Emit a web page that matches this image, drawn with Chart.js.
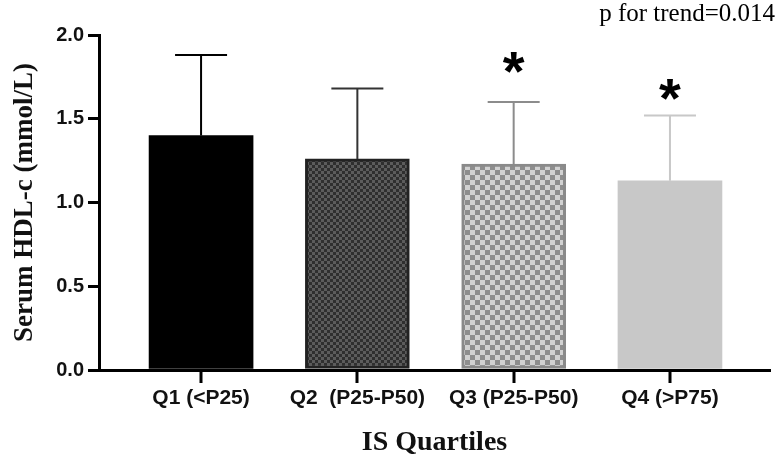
<!DOCTYPE html>
<html>
<head>
<meta charset="utf-8">
<script src="https://cdn.jsdelivr.net/npm/chart.js@4"></script>
<style>
  body { margin: 0; background: #fff; }
  canvas { display: block; }
</style>
</head>
<body>
<canvas id="myChart" width="780" height="466"></canvas>
<script>
// quartile groups
var categories = ["Q1 (<P25)", "Q2  (P25-P50)", "Q3 (P25-P50)", "Q4 (>P75)"];
var positions = [1, 2, 3, 4];
var hdlMean = [1.40, 1.26, 1.23, 1.13];
var hdlSD = [0.48, 0.42, 0.37, 0.39];
var starY = [null, null, 1.83, 1.67];   // where the * marks sit
var yTicks = [0, 0.5, 1.0, 1.5, 2.0];

function checker(size, c1, c2) {
    var c = document.createElement("canvas");
    c.width = size * 2; c.height = size * 2;
    var g = c.getContext("2d");
    g.fillStyle = c1; g.fillRect(0, 0, size * 2, size * 2);
    g.fillStyle = c2;
    g.fillRect(0, 0, size, size);
    g.fillRect(size, size, size, size);
    return g.createPattern(c, "repeat");
}

var fills = ["#000000", checker(3, "#2f2f2f", "#5c5c5c"), checker(5, "#8e8e8e", "#d2d2d2"), "#c8c8c8"];
var borders = ["#000000", "#222222", "#8a8a8a", "#c8c8c8"];
var errColors = ["#000000", "#333333", "#8c8c8c", "#c8c8c8"];

var errorBars = {
    id: "errorBars",
    afterDatasetsDraw: function (chart) {
        var ctx = chart.ctx, xs = chart.scales.x, ys = chart.scales.y;
        ctx.save();
        // category tick marks under the x axis
        ctx.strokeStyle = "#000";
        ctx.lineWidth = 3;
        ctx.beginPath();
        for (var k = 0; k < positions.length; k++) {
            var tx = Math.round(xs.getPixelForValue(positions[k]));
            ctx.moveTo(tx, xs.top);
            ctx.lineTo(tx, xs.top + 13);
        }
        ctx.stroke();

        ctx.lineWidth = 2;
        for (var i = 0; i < hdlMean.length; i++) {
            var x = xs.getPixelForValue(positions[i]);
            var y0 = ys.getPixelForValue(hdlMean[i]);
            var y1 = ys.getPixelForValue(hdlMean[i] + hdlSD[i]);
            ctx.strokeStyle = errColors[i];
            ctx.beginPath();
            ctx.moveTo(x, y0); ctx.lineTo(x, y1);
            ctx.moveTo(x - 26, y1); ctx.lineTo(x + 26, y1);
            ctx.stroke();
            if (starY[i] != null) {
                ctx.fillStyle = "#000";
                ctx.font = "bold 56px 'Liberation Sans'";
                ctx.textAlign = "center";
                ctx.textBaseline = "middle";
                ctx.fillText("*", x, ys.getPixelForValue(starY[i]) + 11);
            }
        }
        ctx.fillStyle = "#000";
        ctx.font = "25px 'Liberation Serif'";
        ctx.textAlign = "right";
        ctx.textBaseline = "alphabetic";
        ctx.fillText("p for trend=0.014", 775, 21);
        ctx.restore();
    }
};

var ctx = document.getElementById("myChart");
var myChart = new Chart(ctx, {
    type: "bar",
    data: {
        datasets: [{
            data: positions.map(function (p, i) { return { x: p, y: hdlMean[i] }; }),
            backgroundColor: fills,
            borderColor: borders,
            borderWidth: [0, 3, 3, 0],
            borderSkipped: false,
            barThickness: 104
        }]
    },
    options: {
        responsive: false,
        animation: false,
        layout: { padding: { top: 35, right: 10, left: 0, bottom: 0 } },
        plugins: { legend: { display: false }, tooltip: { enabled: false } },
        scales: {
            x: {
                type: "linear",
                offset: false,
                min: 0.347,
                max: 4.64,
                afterBuildTicks: function (s) {
                    s.ticks = positions.map(function (p) { return { value: p }; });
                },
                afterFit: function (s) { s.height = 96; },
                ticks: {
                    color: "#111",
                    font: { family: "'Liberation Sans'", weight: "bold", size: 21 },
                    padding: 8,
                    maxRotation: 0,
                    autoSkip: false,
                    callback: function (v) { return categories[positions.indexOf(v)]; }
                },
                grid: { display: false },
                border: { display: true, color: "#000", width: 3 },
                title: {
                    display: true,
                    text: "IS Quartiles",
                    color: "#111",
                    font: { family: "'Liberation Serif'", weight: "bold", size: 28 },
                    padding: { top: 0, bottom: 6 }
                }
            },
            y: {
                min: 0,
                max: 2,
                afterBuildTicks: function (s) {
                    s.ticks = yTicks.map(function (v) { return { value: v }; });
                },
                afterFit: function (s) { s.width = 99; },
                ticks: {
                    color: "#111",
                    font: { family: "'Liberation Sans'", weight: "bold", size: 20 },
                    padding: 4,
                    callback: function (v) { return v.toFixed(1); }
                },
                grid: { drawOnChartArea: false, color: "#000", lineWidth: 3, tickLength: 11 },
                border: { display: true, color: "#000", width: 3 },
                title: {
                    display: true,
                    text: "Serum HDL-c (mmol/L)",
                    color: "#111",
                    font: { family: "'Liberation Serif'", weight: "bold", size: 27 },
                    padding: { top: 9, bottom: 0 }
                }
            }
        }
    },
    plugins: [errorBars]
});
</script>
</body>
</html>
